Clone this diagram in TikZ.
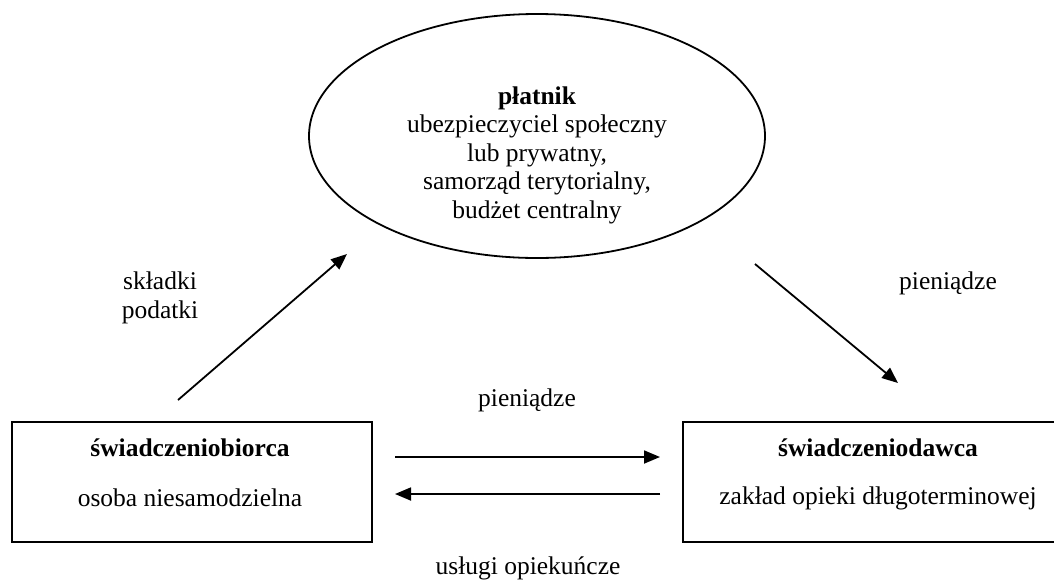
\documentclass[tikz,border=0pt]{standalone}
\usepackage{fontspec}
\setmainfont{Liberation Serif}
\usetikzlibrary{arrows.meta,shapes.geometric}
\begin{document}
\begin{tikzpicture}[x=1pt,y=-1pt,
  txt/.style={font=\fontsize{25.5}{28.5}\selectfont, align=center, inner sep=0pt},
  conn/.style={line width=1.8pt, -{Triangle[length=16pt,width=13pt]}},
  frame/.style={draw, line width=1.8pt, inner sep=0pt},
]
\useasboundingbox (0,0) rectangle (1054,579);
\fill[white] (0,0) rectangle (1054,579);
\begin{scope}
\clip (0,0) rectangle (1054,579);
% payer ellipse
\node[frame, ellipse, minimum width=456pt, minimum height=244pt] (payer) at (537,136) {};
\node[txt] (payertxt) at (537,155) {\textbf{płatnik}\\ubezpieczyciel społeczny\\lub prywatny,\\samorząd terytorialny,\\budżet centralny};
% boxes
\node[frame, rectangle, minimum width=360pt, minimum height=120pt] (recv) at (192,482) {};
\node[txt] (recvtitle) at (190,448) {\textbf{świadczeniobiorca}};
\node[txt] (recvsub) at (190,498) {osoba niesamodzielna};
\node[frame, rectangle, minimum width=390pt, minimum height=120pt] (prov) at (878,482) {};
\node[txt] (provtitle) at (878,448) {\textbf{świadczeniodawca}};
\node[txt] (provsub) at (878,498) {zakład opieki długoterminowej};
% connectors
\coordinate (l1) at (178,400);
\coordinate (l2) at (347,254);
\coordinate (r1) at (755,264);
\coordinate (r2) at (898,383);
\coordinate (m1) at (395,457);
\coordinate (m2) at (660,457);
\coordinate (n1) at (660,494);
\coordinate (n2) at (395,494);
\draw[conn] (l1) -- (l2);
\draw[conn] (r1) -- (r2);
\draw[conn] (m1) -- (m2);
\draw[conn] (n1) -- (n2);
% labels
\node[txt] (lab1) at (160,298) {składki\\podatki};
\node[txt] (lab2) at (948,283) {pieniądze};
\node[txt] (lab3) at (527,400) {pieniądze};
\node[txt] (lab4) at (528,568) {usługi opiekuńcze};
\end{scope}
\end{tikzpicture}
\end{document}
